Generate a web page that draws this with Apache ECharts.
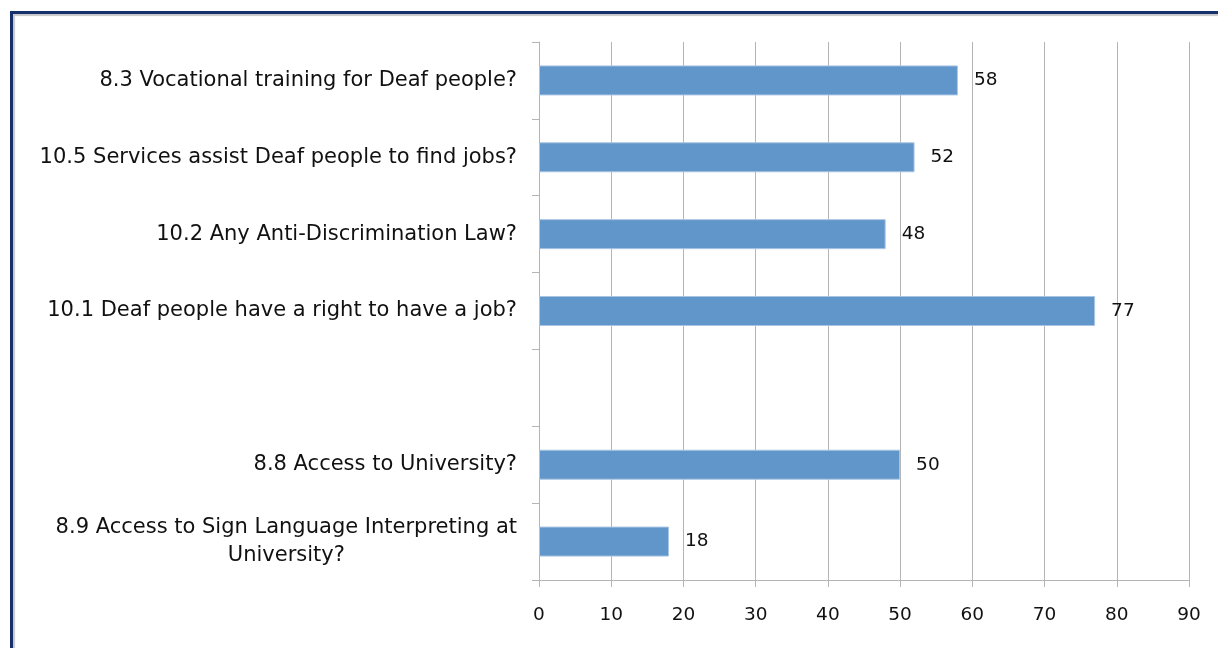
<!DOCTYPE html>
<html>
<head>
<meta charset="utf-8">
<script src="https://cdn.jsdelivr.net/npm/echarts@6/dist/echarts.min.js"></script>
<style>
  html, body { margin: 0; padding: 0; background: #fff; }
  #frame {
    position: absolute; left: 10px; top: 11px; width: 1220px; height: 650px;
    border-top: 3px solid #15306d; border-left: 3px solid #15306d;
    box-shadow: inset 2px 2px 1px #c8c8c8;
  }
  #chart { position: absolute; left: 0; top: 0; width: 1218px; height: 648px; }
</style>
</head>
<body>
<div id="frame"></div>
<div id="chart"></div>
<script>
var categories = [
  "8.3 Vocational training for Deaf people?",
  "10.5 Services assist Deaf people to find jobs?",
  "10.2 Any Anti-Discrimination Law?",
  "10.1 Deaf people have a right to have a job?",
  "",
  "8.8 Access to University?",
  "8.9 Access to Sign Language Interpreting at\nUniversity?"
];
var values = [58, 52, 48, 77, null, 50, 18];
var xTicks = { min: 0, max: 90, interval: 10 };

var chart = echarts.init(document.getElementById("chart"));
var gridColor = "#b4b4b4";
var font = "DejaVu Sans";

chart.setOption({
  animation: false,
  grid: { left: 539, right: 29, top: 42, bottom: 68, containLabel: false },
  xAxis: {
    type: "value",
    min: xTicks.min,
    max: xTicks.max,
    interval: xTicks.interval,
    axisLine: { show: true, lineStyle: { color: gridColor, width: 1 } },
    axisTick: { show: true, length: 7, lineStyle: { color: gridColor } },
    splitLine: { show: true, lineStyle: { color: gridColor, width: 1 } },
    axisLabel: { color: "#111", fontFamily: font, fontSize: 18.5, margin: 26 }
  },
  yAxis: {
    type: "category",
    inverse: true,
    data: categories,
    axisLine: { show: true, lineStyle: { color: gridColor, width: 1 } },
    axisTick: { show: true, length: 7, lineStyle: { color: gridColor } },
    axisLabel: {
      color: "#111",
      fontFamily: font,
      fontSize: 21,
      margin: 22,
      formatter: function (v) {
        if (v.indexOf("\n") >= 0) {
          return v.split("\n").map(function (s) { return "{c|" + s + "}"; }).join("\n");
        }
        return v;
      },
      rich: {
        c: { align: "center", fontFamily: font, fontSize: 21, color: "#111", lineHeight: 28 }
      }
    }
  },
  series: [{
    type: "bar",
    data: values,
    barWidth: 30,
    itemStyle: { color: "#6096c9", borderColor: "#a9c5e3", borderWidth: 1 },
    label: {
      show: true,
      position: "right",
      distance: 16,
      color: "#111",
      fontFamily: font,
      fontSize: 18.5
    }
  }]
});
</script>
</body>
</html>
